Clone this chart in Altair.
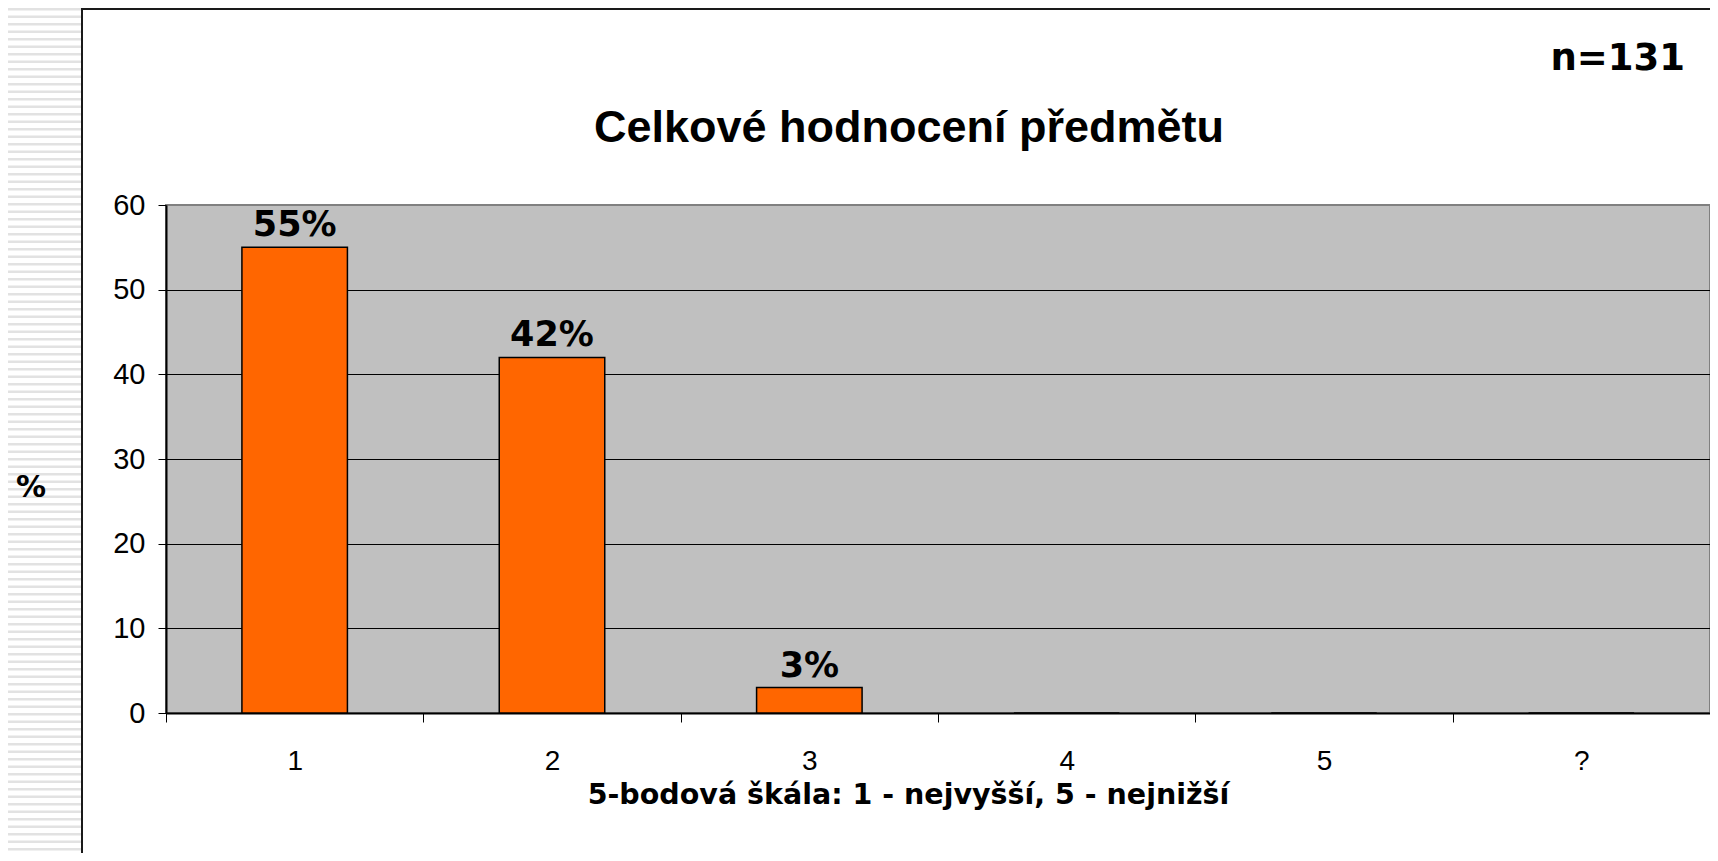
import altair as alt
import pandas as pd

# ---- data ----
categories = ["1", "2", "3", "4", "5", "?"]
percent = [55, 42, 3, 0, 0, 0]
y_ticks = [0, 10, 20, 30, 40, 50, 60]

title_text = "Celkové hodnocení předmětu"
sample_text = "n=131"
x_title = "5-bodová škála: 1 - nejvyšší, 5 - nejnižší"
y_title = "%"

df = pd.DataFrame({"cat": categories, "value": percent})
one = pd.DataFrame({"k": [0]})

W, H = 1544, 508

x_enc = alt.X(
    "cat:N",
    sort=categories,
    scale=alt.Scale(paddingInner=0, paddingOuter=0),
    axis=alt.Axis(
        title=x_title,
        labelAngle=0,
        tickBand="extent",
        tickSize=9,
        tickColor="black",
        tickWidth=1,
        domainColor="black",
        domainWidth=2,
        labelFont="Liberation Sans",
        labelFontSize=28,
        labelColor="black",
        labelPadding=25,
        titleFont="DejaVu Sans",
        titleFontSize=28.5,
        titleFontWeight="bold",
        titleColor="black",
        titleX=742,
        titleY=81,
        titleAlign="center",
        titleBaseline="middle",
    ),
)

y_enc = alt.Y(
    "value:Q",
    scale=alt.Scale(domain=[0, 60], nice=False),
    axis=alt.Axis(
        values=y_ticks,
        title=None,
        grid=True,
        gridColor=alt.condition("datum.value == 60", alt.value("#808080"), alt.value("black")),
        gridWidth=1,
        tickSize=8,
        tickColor="black",
        domainColor="black",
        domainWidth=2,
        labelFont="Liberation Sans",
        labelFontSize=29,
        labelColor="black",
        labelPadding=13,
    ),
)

bars = alt.Chart(df).mark_bar(
    color="#ff6600", stroke="black", strokeWidth=1.5,
    width=alt.RelativeBandSize(0.41),
).encode(x=x_enc, y=y_enc)

labels = alt.Chart(df).transform_filter("datum.value > 0").transform_calculate(
    label="datum.value + '%'"
).mark_text(
    font="DejaVu Sans", fontSize=35, fontWeight="bold", color="black",
    baseline="alphabetic", dy=-11,
).encode(x=alt.X("cat:N", sort=categories), y="value:Q", text="label:N")

# decorative slide frame (striped left panel + box borders)
stripes = alt.Chart(one).mark_rule(
    color="#e2e2e2", strokeWidth=74, strokeDash=[2.5, 5], strokeCap="butt"
).encode(x=alt.value(-121), y=alt.value(-197), y2=alt.value(648))

left_border = alt.Chart(one).mark_rule(color="#1a1a1a", strokeWidth=2).encode(
    x=alt.value(-84), y=alt.value(-197), y2=alt.value(648)
)
top_border = alt.Chart(one).mark_rule(color="#1a1a1a", strokeWidth=2).encode(
    x=alt.value(-84), x2=alt.value(W), y=alt.value(-196)
)

y_label = alt.Chart(one).mark_text(
    text=y_title, font="DejaVu Sans", fontSize=30, fontWeight="bold",
    color="black", align="center", baseline="middle",
).encode(x=alt.value(-135), y=alt.value(283))

title = alt.Chart(one).mark_text(
    text=title_text, font="Liberation Sans", fontSize=45, fontWeight="bold",
    color="black", align="center", baseline="alphabetic",
).encode(x=alt.value(743), y=alt.value(-63))

sample = alt.Chart(one).mark_text(
    text=sample_text, font="DejaVu Sans", fontSize=37, fontWeight="bold",
    color="black", align="right", baseline="alphabetic",
).encode(x=alt.value(1519), y=alt.value(-135))

chart = alt.layer(
    stripes, left_border, top_border, bars, labels, y_label, title, sample
).properties(
    width=W,
    height=H,
    autosize=alt.AutoSizeParams(type="none"),
    padding={"left": 158, "top": 197, "right": 0, "bottom": 140},
    background="white",
).configure_view(
    fill="#c0c0c0", stroke="#808080", strokeWidth=2
)

chart.save("out.html", embed_options={"renderer": "svg", "actions": False})
